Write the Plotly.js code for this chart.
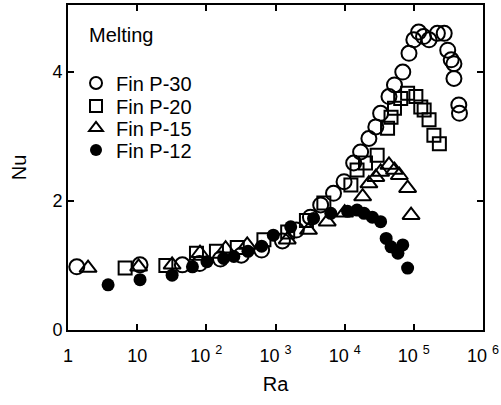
<!DOCTYPE html>
<html><head><meta charset="utf-8">
<script src="https://cdn.plot.ly/plotly-3.0.1.min.js"></script>
<style>html,body{margin:0;padding:0;background:#fff}#c{width:501px;height:405px}</style>
</head><body><div id="c"></div>
<script>
// Ra values and Nu values
const p30Ra = [1.34, 11, 45, 80, 160, 320, 630, 1260, 2000, 3200, 4500, 6900, 9800, 13500, 17000, 22400, 28200, 33100, 43700, 52500, 69200, 85100, 100000, 117500, 138000, 166000, 219000, 275000, 309000, 347000, 380000, 380000, 447000, 457000];
const p30Nu = [0.98, 1.01, 1.01, 1.03, 1.1, 1.16, 1.24, 1.38, 1.55, 1.75, 1.94, 2.12, 2.30, 2.59, 2.76, 2.97, 3.15, 3.36, 3.62, 3.80, 4.00, 4.29, 4.50, 4.62, 4.55, 4.50, 4.60, 4.60, 4.34, 4.19, 4.13, 3.90, 3.49, 3.36];

const p20Ra = [6.7, 26, 72, 140, 280, 680, 1500, 2800, 5000, 12300, 15100, 20000, 29500, 41700, 46800, 52500, 64600, 81300, 107000, 126000, 141000, 166000, 195000, 234000];
const p20Nu = [0.96, 1.00, 1.19, 1.22, 1.28, 1.40, 1.52, 1.70, 1.97, 2.25, 2.48, 2.59, 2.71, 3.13, 3.30, 3.44, 3.59, 3.67, 3.62, 3.46, 3.41, 3.26, 3.02, 2.89];

const p15Ra = [1.95, 10.5, 32, 81, 190, 390, 1480, 3000, 5600, 10000, 18200, 22400, 28200, 33100, 43700, 52500, 61700, 81300, 91200];
const p15Nu = [0.96, 0.98, 1.01, 1.19, 1.26, 1.32, 1.40, 1.55, 1.68, 1.82, 2.07, 2.27, 2.37, 2.45, 2.56, 2.48, 2.40, 2.20, 1.78];

const p12Ra = [3.8, 11, 32, 63, 102, 178, 250, 400, 630, 930, 1660, 3550, 6300, 11000, 15100, 19100, 25100, 33100, 39800, 46800, 58900, 69200, 81300];
const p12Nu = [0.70, 0.78, 0.85, 0.98, 1.06, 1.11, 1.14, 1.22, 1.30, 1.47, 1.60, 1.73, 1.81, 1.84, 1.86, 1.81, 1.75, 1.68, 1.42, 1.29, 1.19, 1.32, 0.96];

const xTickVals = [1, 10, 100, 1000, 10000, 100000, 1000000];
const xTickText = ['1', '10', '10 <sup>2</sup>', '10 <sup>3</sup>', '10 <sup>4</sup>', '10 <sup>5</sup>', '10 <sup>6</sup>'];
const yTickVals = [0, 2, 4];

const names = ['Fin P-30', 'Fin P-20', 'Fin P-15', 'Fin P-12'];
const legendIds = ['legend', 'legend2', 'legend3', 'legend4'];

function tr(x, y, name, symbol, size, leg) {
  return {
    x: x, y: y, name: name, type: 'scatter', mode: 'markers', legend: leg,
    marker: {symbol: symbol, size: size, color: '#000',
             line: {color: '#000', width: 2}}
  };
}

const data = [
  tr(p30Ra, p30Nu, names[0], 'circle-open', 15, legendIds[0]),
  tr(p20Ra, p20Nu, names[1], 'square-open', 13, legendIds[1]),
  tr(p15Ra, p15Nu, names[2], 'triangle-up-open', 15, legendIds[2]),
  tr(p12Ra, p12Nu, names[3], 'circle', 13, legendIds[3])
];
data[3].marker.line.width = 0;

const font = {family: 'Liberation Sans, Arial, sans-serif', size: 18, color: '#000'};
const bigFont = {family: 'Liberation Sans, Arial, sans-serif', size: 20, color: '#000'};

function leg(y) {
  return {x: 0.0193, y: y, xanchor: 'left', yanchor: 'middle', bgcolor: 'rgba(0,0,0,0)',
          font: bigFont, itemsizing: 'constant'};
}

const layout = {
  width: 501, height: 405,
  margin: {l: 68, r: 18, t: 5, b: 75},
  paper_bgcolor: '#fff', plot_bgcolor: '#fff',
  font: font,
  showlegend: true,
  legend: leg(0.76),
  legend2: leg(0.6892),
  legend3: leg(0.6215),
  legend4: leg(0.5538),
  xaxis: {
    type: 'log', range: [0, 6], tickvals: xTickVals, ticktext: xTickText,
    ticks: 'inside', ticklen: 6, tickwidth: 2, tickcolor: '#000',
    showline: true, linewidth: 2, linecolor: '#000', mirror: 'ticks',
    showgrid: false, zeroline: false, tickfont: font, ticklabelstandoff: 8,
    title: {text: 'Ra', font: bigFont, standoff: 12}
  },
  yaxis: {
    range: [0, 5.04], tickvals: yTickVals,
    ticks: 'inside', ticklen: 6, tickwidth: 2, tickcolor: '#000',
    showline: true, linewidth: 2, linecolor: '#000', mirror: 'ticks',
    showgrid: false, zeroline: false, tickfont: font,
    title: {text: 'Nu', font: bigFont, standoff: 20}
  },
  annotations: [{
    text: 'Melting', xref: 'paper', yref: 'paper', x: 0.046, y: 0.9077,
    xanchor: 'left', yanchor: 'middle', showarrow: false, font: bigFont
  }]
};

Plotly.newPlot('c', data, layout, {staticPlot: true, displayModeBar: false});
</script>
</body></html>
